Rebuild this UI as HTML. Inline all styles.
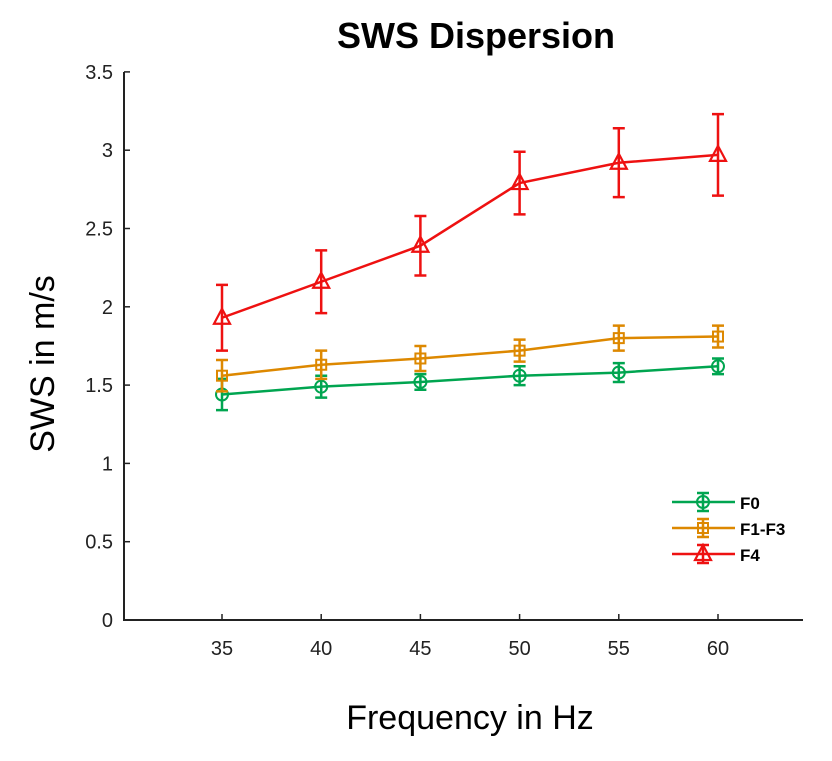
<!DOCTYPE html>
<html><head><meta charset="utf-8"><style>
body{margin:0;background:#fff;}
svg{display:block;font-family:"Liberation Sans",Arial,sans-serif;}
</style></head><body>
<svg id="chart" width="832" height="761">
<text x="476" y="48" text-anchor="middle" font-size="36" font-weight="bold">SWS Dispersion</text>
<text x="470" y="729" text-anchor="middle" font-size="34">Frequency in Hz</text>
<text transform="translate(54,364) rotate(-90)" text-anchor="middle" font-size="34">SWS in m/s</text>
<g id="axes"></g><g id="series"></g><g id="legend"></g>
</svg>
<script>
const categories=[35,40,45,50,55,60];
const f0Values=[1.44,1.49,1.52,1.56,1.58,1.62];
const f0Errors=[0.10,0.07,0.05,0.06,0.06,0.05];
const f13Values=[1.56,1.63,1.67,1.72,1.80,1.81];
const f13Errors=[0.10,0.09,0.08,0.07,0.08,0.07];
const f4Values=[1.93,2.16,2.39,2.79,2.92,2.97];
const f4Errors=[0.21,0.20,0.19,0.20,0.22,0.26];
const yTicks=[0,0.5,1,1.5,2,2.5,3,3.5];
const yTickLabels=["0","0.5","1","1.5","2","2.5","3","3.5"];
const xTickLabels=["35","40","45","50","55","60"];
const NS="http://www.w3.org/2000/svg";
const xs=v=>222+(v-35)*99.2/5;
const ys=v=>620-v*156.6;
function mk(tag,attrs,parent,txt){const e=document.createElementNS(NS,tag);for(const k in attrs)e.setAttribute(k,attrs[k]);if(txt!==undefined)e.textContent=txt;parent.appendChild(e);return e;}
const axes=document.getElementById('axes');
let ya=mk('line',{x1:124,y1:72,x2:124,y2:620,stroke:'#222','stroke-width':2},axes);


let xa=mk('line',{x1:123,y1:620,x2:803,y2:620,stroke:'#222','stroke-width':2},axes);


yTicks.forEach((t,i)=>{
  mk('line',{x1:124,y1:ys(t),x2:130,y2:ys(t),stroke:'#222','stroke-width':1.5},axes);
  const l=mk('text',{x:113,y:ys(t)+7,'text-anchor':'end','font-size':20,fill:'#222'},axes,yTickLabels[i]);
  
  
});
categories.forEach((c,i)=>{
  mk('line',{x1:xs(c),y1:620,x2:xs(c),y2:614,stroke:'#222','stroke-width':1.5},axes);
  const l=mk('text',{x:xs(c),y:655,'text-anchor':'middle','font-size':20,fill:'#222'},axes,xTickLabels[i]);
  
  
});
function marker(g,type,x,y,col){
  if(type==='circle')mk('circle',{cx:x,cy:y,r:6,fill:'none',stroke:col,'stroke-width':2},g);
  else if(type==='square')mk('rect',{x:x-5,y:y-5,width:10,height:10,fill:'none',stroke:col,'stroke-width':2},g);
  else mk('polygon',{points:`${x},${y-9} ${x+8},${y+6} ${x-8},${y+6}`,fill:'none',stroke:col,'stroke-width':2.2},g);
}
const seriesDefs=[
  {name:'F0',vals:f0Values,errs:f0Errors,col:'#00a550',m:'circle'},
  {name:'F1-F3',vals:f13Values,errs:f13Errors,col:'#dd8800',m:'square'},
  {name:'F4',vals:f4Values,errs:f4Errors,col:'#ee1111',m:'triangle'}];
const sg=document.getElementById('series');
seriesDefs.forEach(s=>{
  const g=mk('g',{},sg);
  
  
  const pts=categories.map((c,i)=>xs(c)+','+ys(s.vals[i])).join(' ');
  mk('polyline',{points:pts,fill:'none',stroke:s.col,'stroke-width':2.5},g);
  categories.forEach((c,i)=>{
    const x=xs(c),t=ys(s.vals[i]+s.errs[i]),b=ys(s.vals[i]-s.errs[i]);
    const eb=mk('path',{d:`M${x},${t}V${b}M${x-6},${t}H${x+6}M${x-6},${b}H${x+6}`,stroke:s.col,'stroke-width':2.5,fill:'none'},g);
    
    
    marker(g,s.m,x,ys(s.vals[i]),s.col);
  });
});
const lg=document.getElementById('legend');


seriesDefs.forEach((s,i)=>{
  const y=502+i*26;
  const g=mk('g',{},lg);
  
  
  mk('line',{x1:672,y1:y,x2:735,y2:y,stroke:s.col,'stroke-width':2.5},g);
  mk('path',{d:`M703,${y-9}V${y+9}M697,${y-9}H709M697,${y+9}H709`,stroke:s.col,'stroke-width':2.5},g);
  marker(g,s.m,703,y,s.col);
  mk('text',{x:740,y:y+7,'font-size':17,'font-weight':'bold'},g,s.name);
});
</script>
</body></html>
